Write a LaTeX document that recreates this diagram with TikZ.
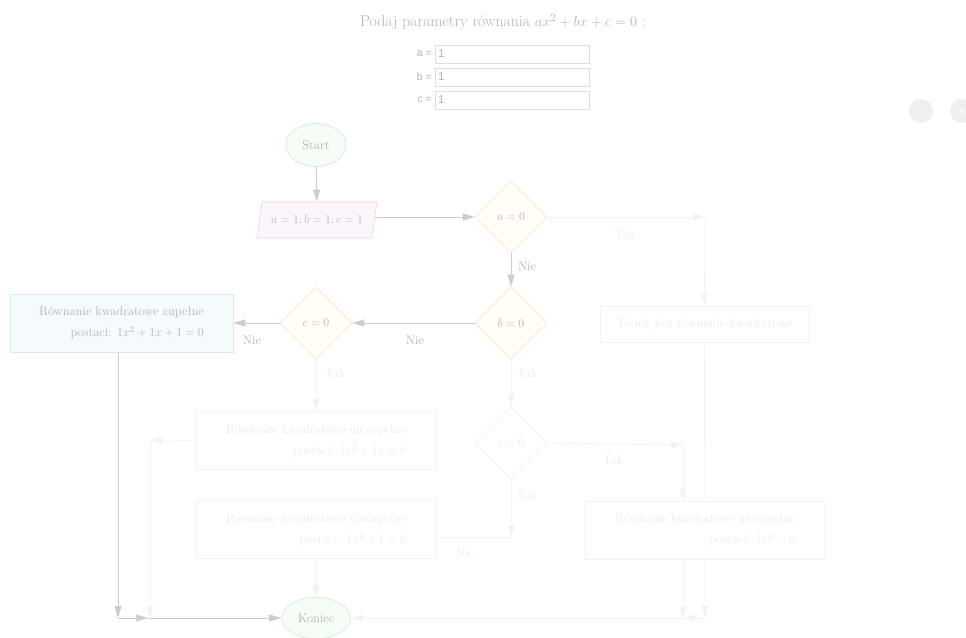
\documentclass[tikz,border=0pt]{standalone}
\usepackage{fontspec}
\newfontfamily\uifont{Liberation Sans}
\usetikzlibrary{shapes.geometric,arrows.meta}
\pgfdeclarelayer{bg}
\pgfsetlayers{bg,main}
\definecolor{actline}{HTML}{CDCDCD}
\definecolor{acttext}{HTML}{B4B4B4}
\definecolor{offline}{HTML}{F3F3F3}
\definecolor{offtext}{HTML}{EBEBEB}
\definecolor{offborder}{HTML}{F1F1F1}
\definecolor{grnB}{HTML}{D3EED3}
\definecolor{grnF}{HTML}{F6FCF6}
\definecolor{pinkB}{HTML}{EDD3ED}
\definecolor{pinkF}{HTML}{FCF6FC}
\definecolor{yelB}{HTML}{F5EBCC}
\definecolor{yelF}{HTML}{FFFDF6}
\definecolor{bluB}{HTML}{D6E9F4}
\definecolor{bluF}{HTML}{F5FAFD}
\definecolor{fieldB}{HTML}{DDDDDD}
\definecolor{btnF}{HTML}{EFEFEF}
\tikzset{
  arr/.style={-{Triangle[length=12pt,width=7pt]}},
  actl/.style={draw=actline,line width=0.9pt},
  offl/.style={draw=offline,line width=0.9pt},
  lbl/.style={text=acttext,inner sep=1pt},
  offlbl/.style={text=offtext,inner sep=1pt},
  term/.style={ellipse,draw=grnB,fill=grnF,text=acttext,line width=0.7pt},
  io/.style={trapezium,trapezium left angle=75,trapezium right angle=105,trapezium stretches=true,draw=pinkB,fill=pinkF,text=acttext,line width=0.7pt,minimum width=120pt,minimum height=36pt},
  dec/.style={diamond,draw=yelB,fill=yelF,text=acttext,line width=0.7pt,minimum width=72pt,minimum height=72pt,inner sep=0pt},
  decoff/.style={diamond,draw=offborder,fill=white,text=offtext,line width=0.7pt,minimum width=72pt,minimum height=72pt,inner sep=0pt},
  actbox/.style={rectangle,draw=bluB,fill=bluF,text=acttext,line width=0.7pt,align=right},
  offbox/.style={rectangle,draw=offborder,fill=white,text=offtext,line width=0.7pt,align=right},
  field/.style={rectangle,draw=fieldB,fill=white,minimum width=154pt,minimum height=18pt,text width=148pt,align=left,inner sep=2pt,font=\uifont\fontsize{11.5}{12}\selectfont,text=acttext},
  uilbl/.style={font=\uifont\fontsize{10.5}{11}\selectfont,text=acttext,anchor=east,inner sep=1pt},
  btn/.style={circle,fill=btnF,minimum size=24pt,inner sep=0pt,text=white,font=\uifont\fontsize{14}{14}\selectfont}
}
\begin{document}
\begin{tikzpicture}[x=1pt,y=-1pt,font=\fontsize{12.5}{21}\selectfont]
\useasboundingbox (0,0) rectangle (966,637);
% header
\node[text=acttext,font=\fontsize{15.8}{18}\selectfont] (title) at (503,22) {Podaj parametry równania $ax^2+bx+c=0$ :};
\node[uilbl] (la) at (433,54) {a =};
\node[field] (fa) at (512,54) {1};
\node[uilbl] (lb2) at (433,77) {b =};
\node[field] (fb) at (512,77) {1};
\node[uilbl] (lc) at (433,100) {c =};
\node[field] (fc) at (512,100) {1};
\node[btn] (minus) at (921,111) {\textendash};
\node[btn] (plus) at (962,111) {+};
% flow nodes
\node[term,minimum width=60pt,minimum height=43pt] (start) at (316,145) {Start};
\node[io] (param) at (317,220) {$a=1,b=1,c=1$};
\node[dec] (da) at (511,217) {$a=0$};
\node[dec] (db) at (511,323) {$b=0$};
\node[dec] (dc) at (316,323) {$c=0$};
\node[actbox,minimum width=223pt,minimum height=58pt] (lbox) at (121.5,323) {Równanie kwadratowe zupełne\\postaci: $1x^2+1x+1=0$};
\node[offbox,minimum width=209pt,minimum height=36pt] (notq) at (704.5,324) {To nie jest równanie kwadratowe};
\node[offbox,minimum width=240pt,minimum height=58pt] (nz1) at (316,440.5) {Równanie kwadratowe niezupełne\\postaci: $1x^2+1x=0$};
\node[decoff] (dd) at (511,443) {$c=0$};
\node[offbox,minimum width=240pt,minimum height=58pt] (nz2) at (316,529.5) {Równanie kwadratowe niezupełne\\postaci: $1x^2+1=0$};
\node[offbox,minimum width=240pt,minimum height=58pt] (nz3) at (705,530) {Równanie kwadratowe niezupełne\\postaci: $1x^2=0$};
\node[term,minimum width=69pt,minimum height=41pt] (koniec) at (316,618) {Koniec};
% corner coordinates
\coordinate (c1) at (118,618);
\coordinate (c1b) at (148,618);
\coordinate (r1) at (705,217);
\coordinate (r2) at (705,618);
\coordinate (r3) at (683,618);
\coordinate (l1) at (150,440);
\coordinate (l2) at (150,618);
\coordinate (d1) at (683,445);
\coordinate (d2) at (511,537);
% edges
\begin{pgfonlayer}{bg}
% inactive
\draw[offl,arr] (da.east) -- (r1);
\draw[offl,arr] (r1) -- (notq.north);
\draw[offl,arr] (notq.south) -- (r2);
\draw[offl,arr] (r2) -- (r3);
\draw[offl,arr] (nz3.south -| r3) -- (r3);
\draw[offl,arr] (r3) -- (koniec.east);
\draw[offl,arr] (dc.south) -- (nz1.north);
\draw[offl,arr] (nz1.west) -- (l1);
\draw[offl,arr] (l1) -- (l2);
\draw[offl,arr] (db.south) -- (dd.north);
\draw[offl,arr] (dd.east) -- (d1);
\draw[offl,arr] (d1) -- (nz3.north -| d1);
\draw[offl,arr] (dd.south) -- (d2);
\draw[offl] (d2) -- (nz2.east |- d2);
\draw[offl,arr] (nz2.south) -- (koniec.north);
% active
\draw[actl,arr] (start) -- (param);
\draw[actl,arr] (param.east |- da.west) -- (da.west);
\draw[actl,arr] (da) -- (db);
\draw[actl,arr] (db) -- (dc);
\draw[actl,arr] (dc) -- (lbox);
\draw[actl,arr] (lbox.south -| c1) -- (c1);
\draw[actl,arr] (c1) -- (c1b);
\draw[actl,arr] (c1b) -- (koniec.west);
\end{pgfonlayer}
% edge labels
\node[lbl] (nie1) at (527,266) {Nie};
\node[lbl] (nie2) at (415,340) {Nie};
\node[lbl] (nie3) at (252,340) {Nie};
\node[offlbl] (tak1) at (625,235) {Tak};
\node[offlbl] (tak2) at (335,373) {Tak};
\node[offlbl] (tak3) at (527,373) {Tak};
\node[offlbl] (tak4) at (613,460) {Tak};
\node[offlbl] (nie4) at (527,495) {Nie};
\node[offlbl] (nie5) at (465,553) {Nie};
\end{tikzpicture}
\end{document}
